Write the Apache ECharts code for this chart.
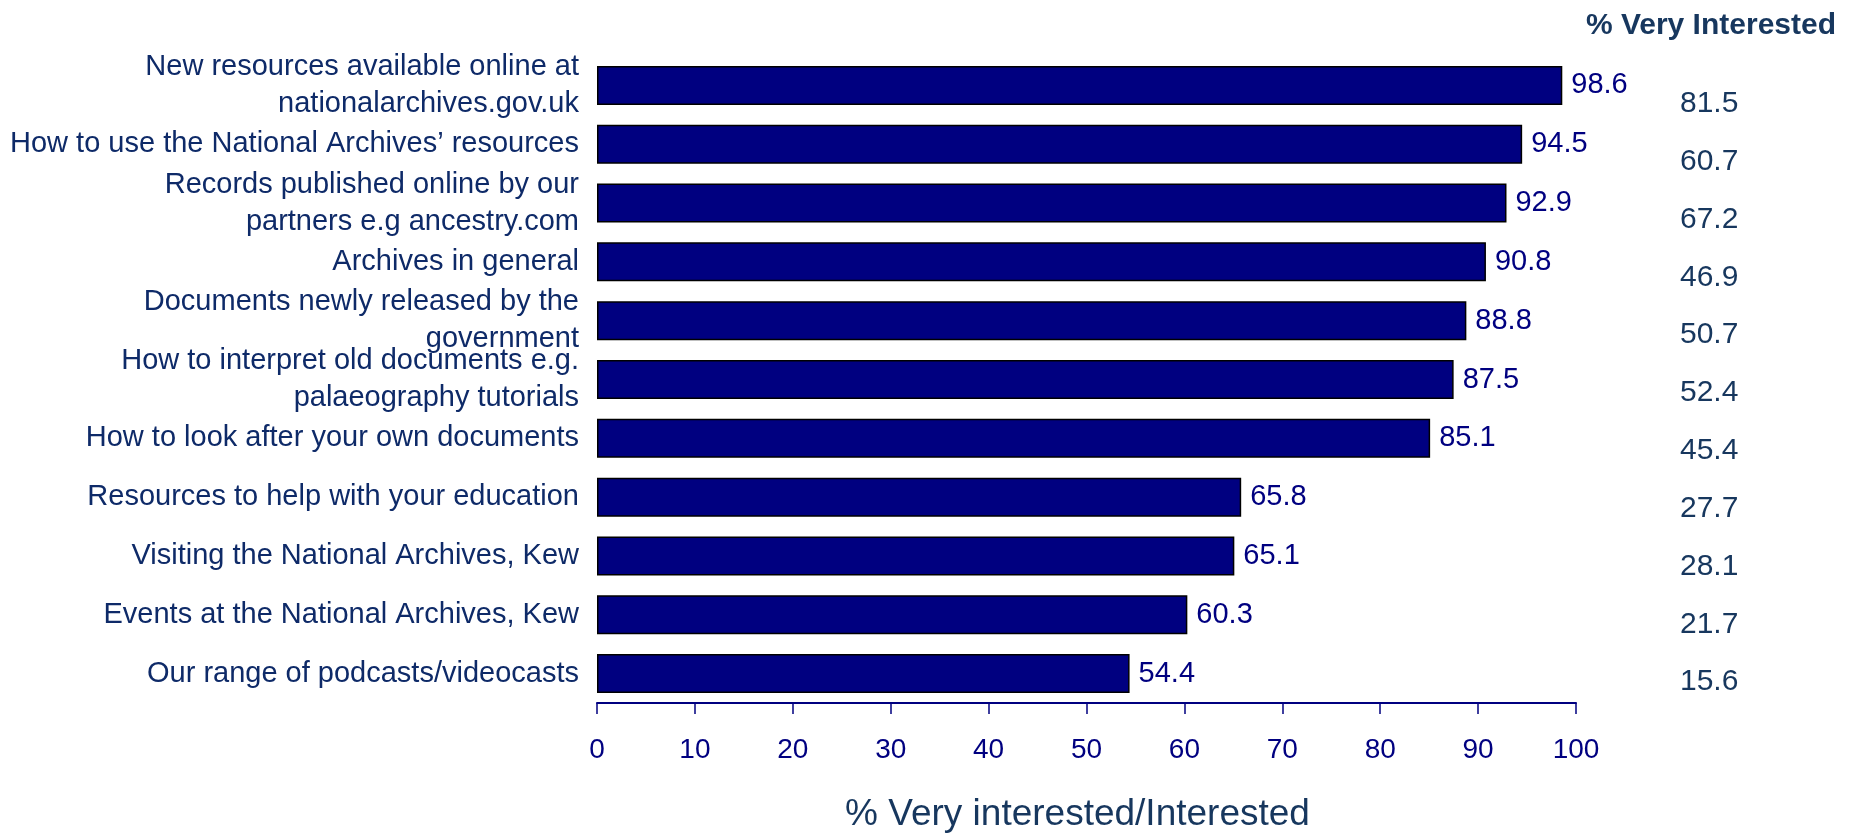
<!DOCTYPE html>
<html>
<head>
<meta charset="utf-8">
<script src="https://cdn.jsdelivr.net/npm/echarts@6/dist/echarts.min.js"></script>
<style>
html,body{margin:0;padding:0;background:#fff;}
#chart{width:1869px;height:838px;}
</style>
</head>
<body>
<div id="chart"></div>
<script>
const categories = [
  'New resources available online at\nnationalarchives.gov.uk',
  'How to use the National Archives\u2019 resources',
  'Records published online by our\npartners e.g ancestry.com',
  'Archives in general',
  'Documents newly released by the\ngovernment',
  'How to interpret old documents e.g.\npalaeography tutorials',
  'How to look after your own documents',
  'Resources to help with your education',
  'Visiting the National Archives, Kew',
  'Events at the National Archives, Kew',
  'Our range of podcasts/videocasts'
];
const interested = [98.6, 94.5, 92.9, 90.8, 88.8, 87.5, 85.1, 65.8, 65.1, 60.3, 54.4];
const veryInterested = [81.5, 60.7, 67.2, 46.9, 50.7, 52.4, 45.4, 27.7, 28.1, 21.7, 15.6];
const xTicks = [0, 10, 20, 30, 40, 50, 60, 70, 80, 90, 100];

const FONT = '"Liberation Sans", Arial, Helvetica, sans-serif';
const chart = echarts.init(document.getElementById('chart'));
chart.setOption({
  backgroundColor: '#ffffff',
  animation: false,
  title: {
    text: '% Very Interested',
    right: 33, top: 11, padding: 0,
    textStyle: { fontFamily: FONT, fontSize: 30, fontWeight: 'bold', color: '#17375E' }
  },
  grid: [
    { left: 597, top: 56, width: 979, height: 655, containLabel: false },
    { left: 1680, top: 75, width: 100, height: 636, containLabel: false }
  ],
  xAxis: [
    {
      gridIndex: 0, type: 'value', min: 0, max: 100, interval: 10,
      name: '% Very interested/Interested', nameLocation: 'middle', nameGap: 93,
      nameTextStyle: { fontFamily: FONT, fontSize: 37, color: '#17375E', padding: [0, 18, 0, 0] },
      axisLine: { show: true, lineStyle: { color: '#000080', width: 2 } },
      axisTick: { show: true, length: 11, lineStyle: { color: '#000080', width: 1.5 } },
      axisLabel: { fontFamily: FONT, fontSize: 28, color: '#000080', margin: 33,
        formatter: v => xTicks.includes(v) ? String(v) : '' },
      splitLine: { show: false }
    },
    { gridIndex: 1, type: 'value', show: false, min: 0, max: 1 }
  ],
  yAxis: [
    {
      gridIndex: 0, type: 'category', data: categories, inverse: true,
      axisLine: { show: false }, axisTick: { show: false },
      axisLabel: { fontFamily: FONT, fontSize: 29, color: '#0E2A68', margin: 18, lineHeight: 37, align: 'right' }
    },
    {
      gridIndex: 1, type: 'category', data: categories, inverse: true,
      axisLine: { show: false }, axisTick: { show: false },
      axisLabel: { fontFamily: FONT, fontSize: 30, color: '#17375E', margin: 0, align: 'left',
        formatter: (v, i) => veryInterested[i].toFixed(1) }
    }
  ],
  series: [
    {
      type: 'bar', xAxisIndex: 0, yAxisIndex: 0,
      data: interested, barWidth: 39,
      itemStyle: { color: '#000080', borderColor: '#000000', borderWidth: 1.5 },
      label: { show: true, position: 'right', distance: 9, fontFamily: FONT, fontSize: 29, color: '#000080',
        formatter: p => p.value.toFixed(1) }
    }
  ]
});
</script>
</body>
</html>
